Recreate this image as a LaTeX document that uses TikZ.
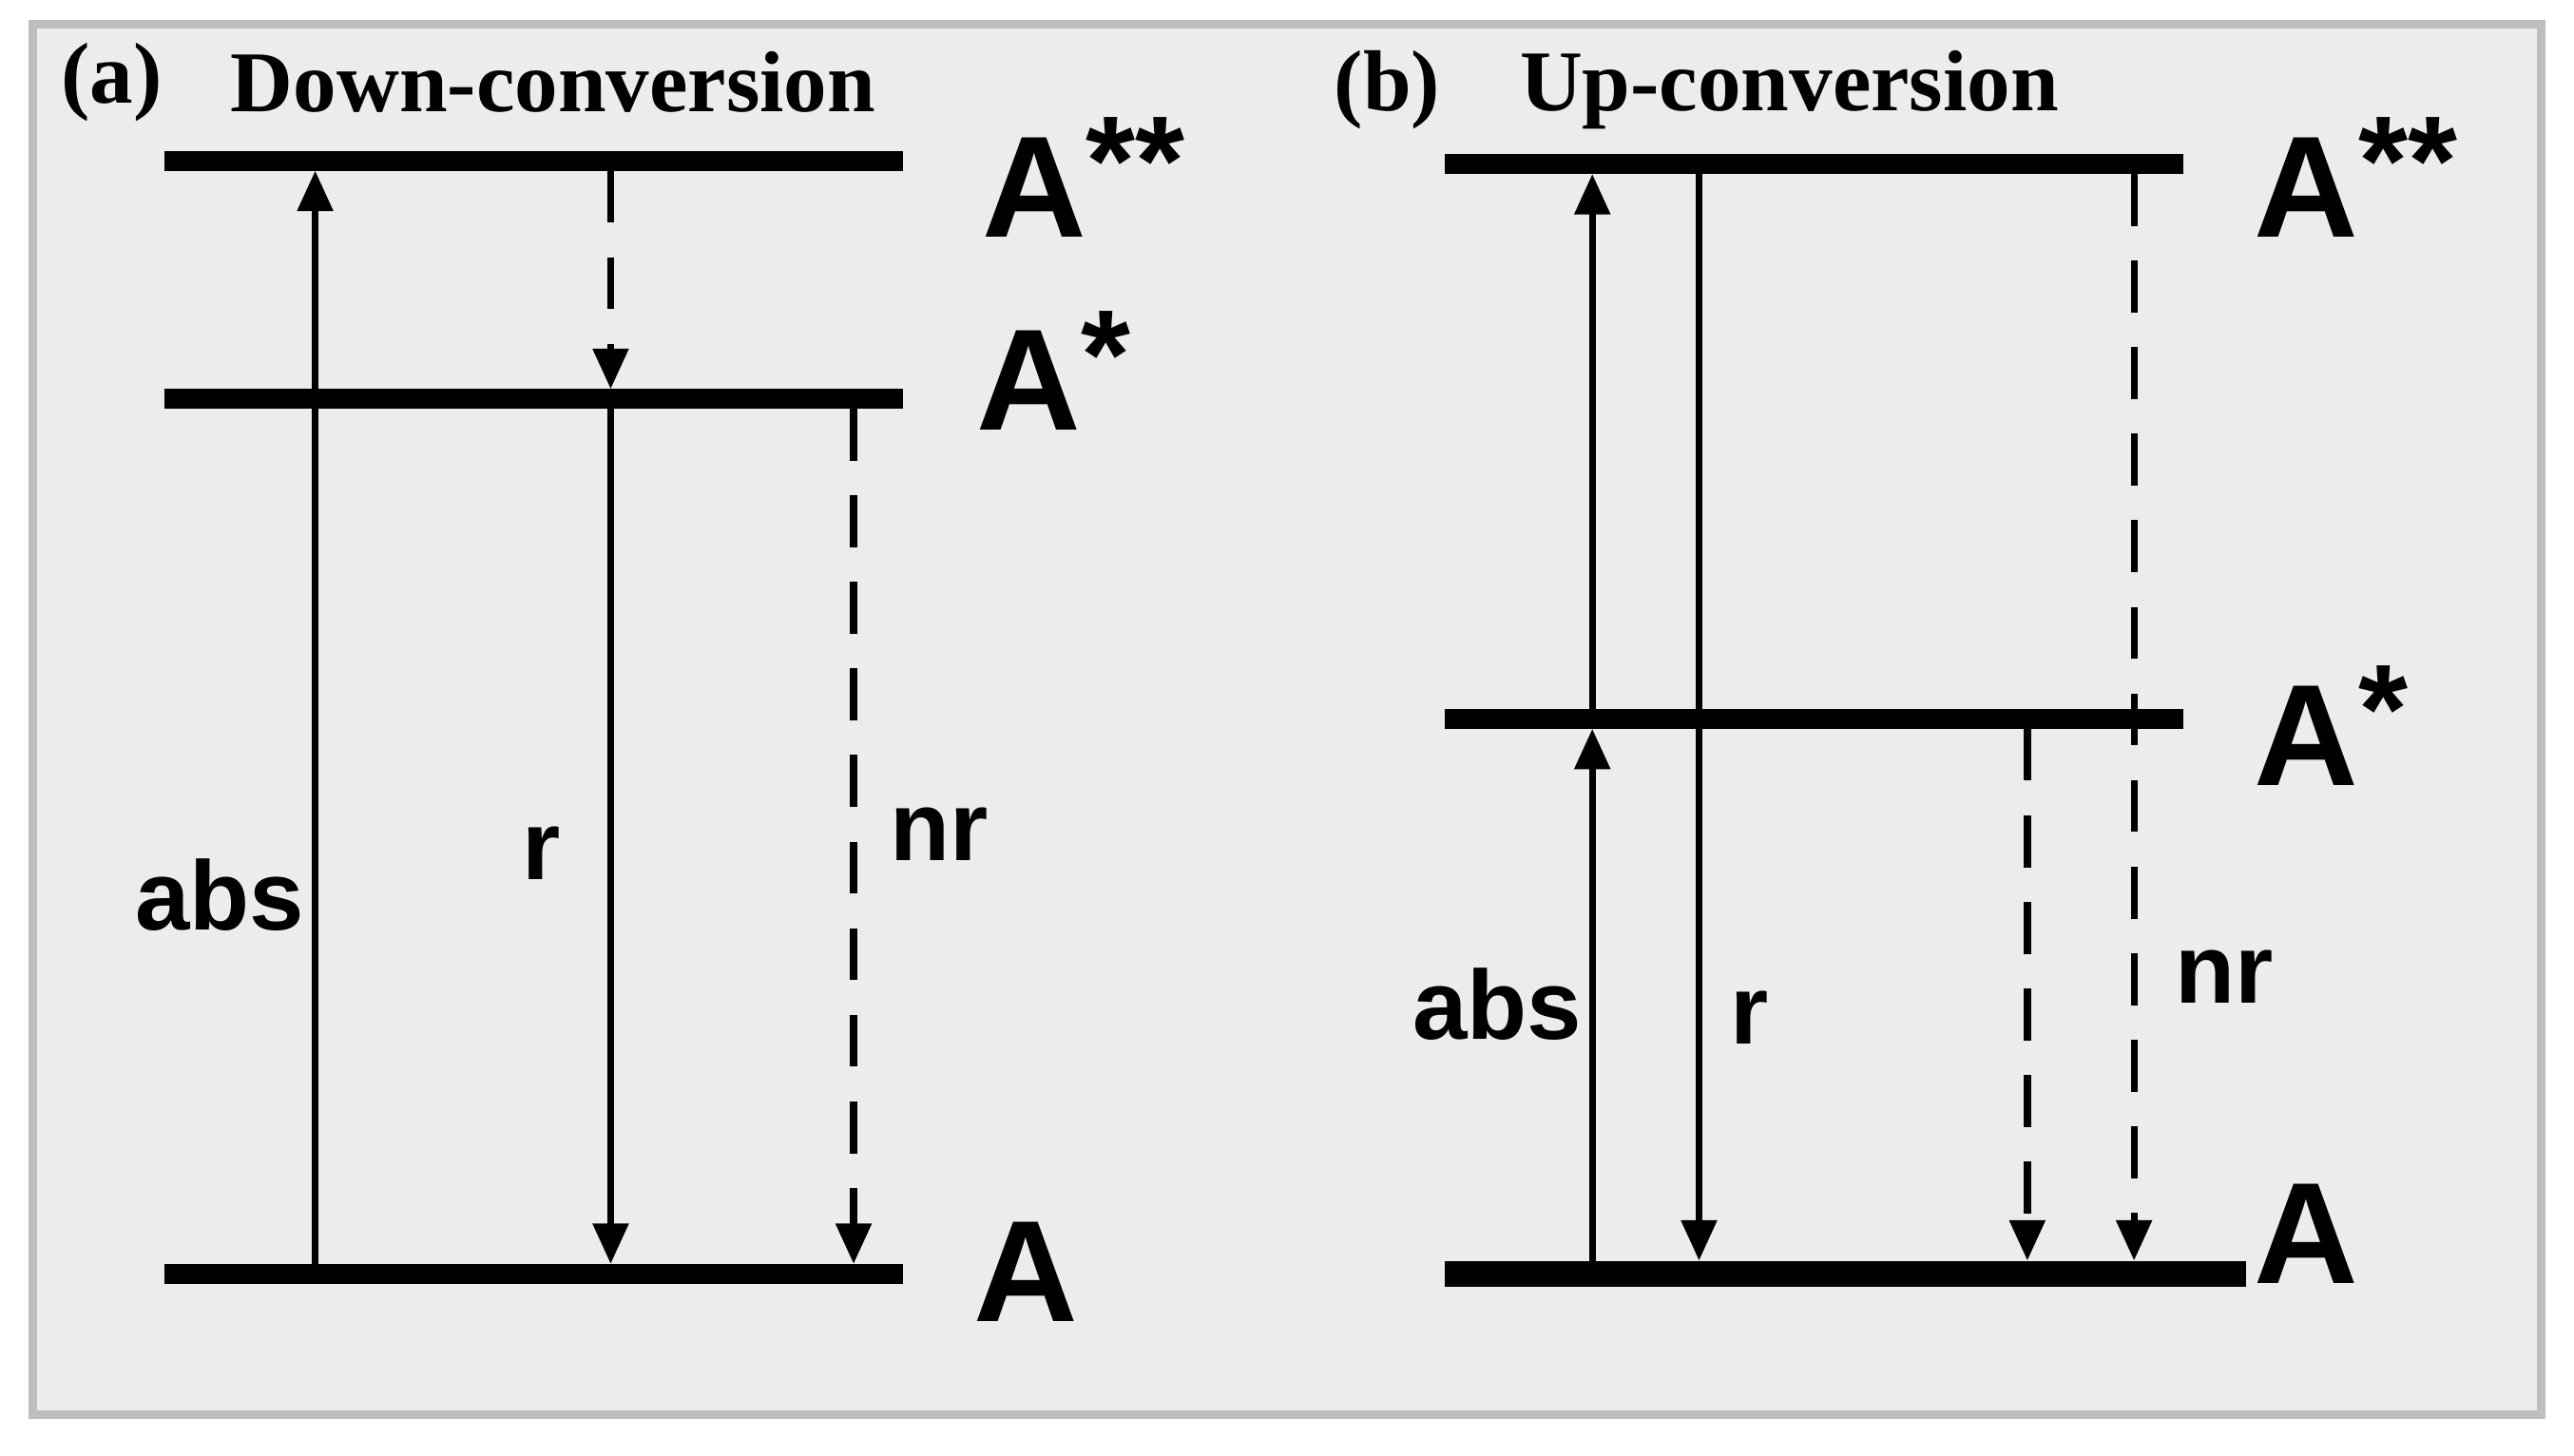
\documentclass[tikz,border=0pt]{standalone}
\usepackage{fontspec}
\setmainfont{Liberation Serif}
\newfontfamily\lab{Liberation Sans}
\usetikzlibrary{arrows.meta}
\newcommand{\st}[1]{\raisebox{0.22em}{\fontsize{22}{24}\selectfont #1}}
\begin{document}
\begin{tikzpicture}[x=0.01cm,y=-0.01cm,
  lvl/.style={line width=3.4pt},
  arr/.style={line width=1.2pt,-{Triangle[length=7pt,width=6pt]}},
  darr/.style={arr,dash pattern=on 9pt off 6pt},
  lb/.style={font=\lab\bfseries\fontsize{17}{20}\selectfont},
  big/.style={font=\lab\bfseries\fontsize{25}{30}\selectfont},
  ttl/.style={font=\bfseries\fontsize{15}{18}\selectfont}]
\useasboundingbox (0,0) rectangle (1568,887);
\draw[fill={rgb,255:red,236;green,236;blue,236},draw={rgb,255:red,190;green,190;blue,190},line width=1.5pt] (20,15) rectangle (1548,862);
% panel a
\node[ttl] (ta) at (68,50) {(a)};
\node[ttl] (tda) at (337,50) {Down-conversion};
\coordinate (a2l) at (100,98); \coordinate (a2r) at (550,98);
\coordinate (a1l) at (100,243); \coordinate (a1r) at (550,243);
\coordinate (a0l) at (100,776); \coordinate (a0r) at (550,776);
\draw[lvl] (a2l)--(a2r); \draw[lvl] (a1l)--(a1r); \draw[lvl] (a0l)--(a0r);
\coordinate (aab0) at (192,770); \coordinate (aab1) at (192,104);
\draw[arr] (aab0)--(aab1);
\coordinate (ad0) at (372,104); \coordinate (ad1) at (372,237);
\draw[darr] (ad0)--(ad1);
\coordinate (ar0) at (372,249); \coordinate (ar1) at (372,770);
\draw[arr] (ar0)--(ar1);
\coordinate (an0) at (520,249); \coordinate (an1) at (520,770);
\draw[darr] (an0)--(an1);
\node[lb] (la) at (134,545) {abs};
\node[lb] (lr) at (330,520) {r};
\node[lb] (lnr) at (572,508) {nr};
\node[big] (L2a) at (660,108) {A\st{**}};
\node[big] (L1a) at (642,226) {A\st{*}};
\node[big] (L0a) at (625,775) {A};
% panel b
\node[ttl] (tb) at (845,55) {(b)};
\node[ttl] (tub) at (1090,55) {Up-conversion};
\coordinate (b2l) at (880,100); \coordinate (b2r) at (1330,100);
\coordinate (b1l) at (880,438); \coordinate (b1r) at (1330,438);
\coordinate (b0l) at (880,776); \coordinate (b0r) at (1368,776);
\draw[lvl] (b2l)--(b2r); \draw[lvl] (b1l)--(b1r); \draw[line width=4.5pt] (b0l)--(b0r);
\coordinate (bab0) at (970,770); \coordinate (bab1) at (970,444);
\draw[arr] (bab0)--(bab1);
\coordinate (bab2) at (970,432); \coordinate (bab3) at (970,106);
\draw[arr] (bab2)--(bab3);
\coordinate (br0) at (1035,106); \coordinate (br1) at (1035,768);
\draw[arr] (br0)--(br1);
\coordinate (bd0) at (1235,444); \coordinate (bd1) at (1235,768);
\draw[darr] (bd0)--(bd1);
\coordinate (be0) at (1300,106); \coordinate (be1) at (1300,768);
\draw[darr] (be0)--(be1);
\node[lb] (lab) at (912,612) {abs};
\node[lb] (lrb) at (1066,620) {r};
\node[lb] (lnrb) at (1355,595) {nr};
\node[big] (L2b) at (1435,108) {A\st{**}};
\node[big] (L1b) at (1420,442) {A\st{*}};
\node[big] (L0b) at (1405,752) {A};
\end{tikzpicture}
\end{document}
